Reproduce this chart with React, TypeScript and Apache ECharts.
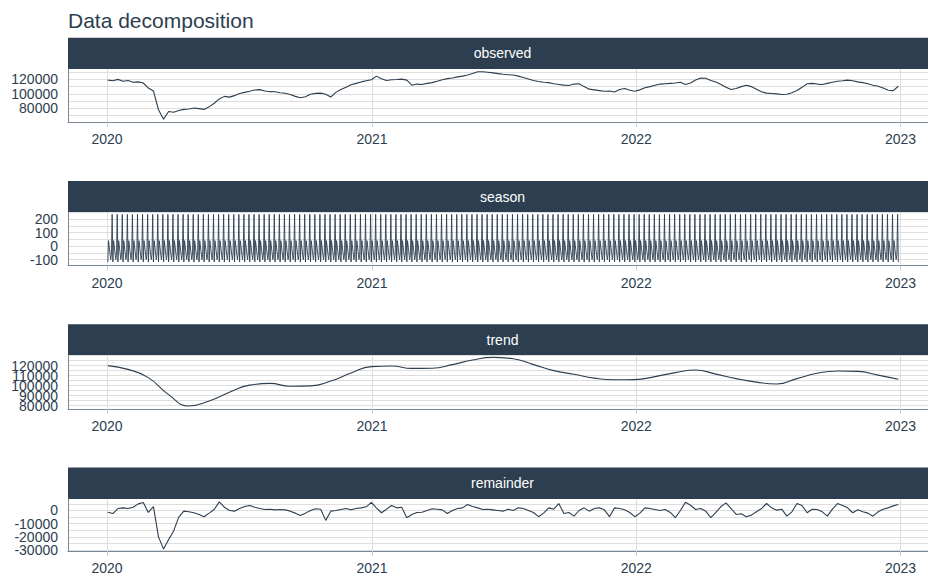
import { useEffect, useRef } from "react";
import * as echarts from "echarts";

// ---- data ---------------------------------------------------------------

const DAY_MS = 86400000;
const ORIGIN = Date.UTC(2020, 0, 1);

const panelNames = ["observed", "season", "trend", "remainder"];
const yearLabels = ["2020", "2021", "2022", "2023"];

// first observation (2020-01-02) as days since 2020-01-01, and weekly step
const firstDay = 1;
const weekStep = 7;

// weekly observed level
const observedWeekly = [
  119000, 118000, 120000, 117500, 118500, 116000, 116500, 115000, 108000, 104000,
  78000, 65000, 75500, 74500, 77000, 78500, 79000, 80500, 79500, 78500,
  82000, 87000, 93000, 96500, 95500, 97500, 100500, 102000, 103500, 105300,
  105800, 104000, 103000, 102800, 101500, 100800, 99000, 96500, 94500, 96000,
  99500, 100700, 101000, 99500, 95500, 102000, 106000, 109000, 112500, 114500,
  116500, 118000, 119500, 124500, 121000, 118500, 119500, 119800, 120300, 119000,
  112000, 113500, 113000, 114500, 115500, 117500, 119500, 121000, 122000, 123500,
  124500, 126000, 128000, 130500, 130500, 129800, 129000, 128000, 127000, 126500,
  126000, 124500, 122500, 120500, 118500, 117000, 116000, 115500, 114000, 113000,
  112000, 111500, 113500, 114000, 110000, 106500, 105500, 104500, 103500, 104000,
  102500, 106000, 107500, 105000, 103500, 105500, 108500, 110000, 112000, 113500,
  114000, 114500, 115000, 116000, 113000, 115000, 119000, 122000, 121500, 118500,
  116500, 113000, 109000, 106000, 107500, 110000, 112000, 110000, 106500, 103000,
  101000, 100500, 100000, 99000, 99500, 101500, 104500, 109000, 114000, 114500,
  113500, 113000, 114500, 116000, 117500, 118000, 119000, 118000, 116500, 115500,
  114000, 112000, 110500, 108000, 105000, 104500, 110500,
];

// seasonal component for one trading week, Monday..Friday
const seasonWeek = [-100, -60, 237, -118, 41];

// trend sampled every four weeks
const trendStep = 28;
const trendValues = [
  120000, 116200, 108000, 91000, 79600, 84600, 93300, 100500, 102200, 99300,
  99700, 104500, 112600, 119000, 119600, 117200, 117400, 121000, 125600, 128200,
  126800, 121000, 115000, 111300, 107500, 105800, 106000, 109000, 113000, 115600,
  111500, 107000, 103500, 101600, 107000, 112400, 114600, 114200, 110500, 106300,
];

// weekly remainder
const remainderWeekly = [
  -1300, -2300, 1500, 2000, 1500, 2500, 5000, 6000, -1500, 3000,
  -20000, -29300, -22000, -15500, -5000, -500, -1000, -1700, -3000, -4700,
  -2000, 750, 6500, 2500, 0, -500, 1500, 3000, 3800, 2500,
  1500, 750, 1000, 500, 750, 500, -500, -2000, -3800, -2000,
  0, 1300, 1000, -7500, -500, 0, 750, 1500, 500, 1500,
  2000, 2800, 6200, 2000, -1700, 1000, 3800, 2000, 2500, -5500,
  -3000, -1500, -1300, 0, 1300, 1000, 500, -2300, 0, 1500,
  2000, 4500, 3000, 2000, 750, 1000, 500, 0, -500, 1000,
  0, 2000, 1500, 0, -1500, -4700, -2000, 2000, 1000, 5300,
  -2300, -1500, -4300, 0, 2000, -500, 1500, 2000, 500, -4700,
  2000, 1500, 500, -1500, -4700, -2000, 2000, 1500, 750, 0,
  750, -1500, -5500, 0, 6200, 4000, 750, 1500, -500, -5500,
  -1500, 3000, 5800, 1500, -3000, -2500, -4700, -3500, -1000, 1500,
  5300, 2000, 250, 1000, -4300, -1000, 5300, 3800, -1700, 1000,
  750, -1000, -4300, 1000, 5300, 3800, 2000, -1700, 500, -1000,
  -2000, -4300, -1000, 1000, 2000, 3500, 4500,
];

// y ranges, grid lines and labelled ticks per panel
const observedRange = [60650, 134350];
const observedGrid = [70000, 80000, 90000, 100000, 110000, 120000, 130000];
const observedTicks = [80000, 100000, 120000];

const seasonRange = [-145, 252.5];
const seasonGrid = [-100, -50, 0, 50, 100, 150, 200, 250];
const seasonTicks = [-100, 0, 100, 200];

const trendRange = [76700, 130000];
const trendGrid = [80000, 85000, 90000, 95000, 100000, 105000, 110000, 115000, 120000, 125000, 130000];
const trendTicks = [80000, 90000, 100000, 110000, 120000];

const remainderRange = [-30750, 8800];
const remainderGrid = [-30000, -25000, -20000, -15000, -10000, -5000, 0, 5000];
const remainderTicks = [-30000, -20000, -10000, 0];

// ---- helpers ------------------------------------------------------------

const dayOfYearStart = (y: number) => (Date.UTC(y, 0, 1) - ORIGIN) / DAY_MS;
const yearDays = yearLabels.map((y) => dayOfYearStart(Number(y)));

const weeklyPoints = (vals: number[]) =>
  vals.map((v, k) => [firstDay + k * weekStep, v]);

const trendPoints = trendValues.map((v, j) => [firstDay + j * trendStep, v]);

// seasonal values on trading days (weekends skipped)
const lastDay = firstDay + (observedWeekly.length - 1) * weekStep;
const seasonPoints: number[][] = [];
for (let d = firstDay; d <= lastDay; d++) {
  const wd = (3 + d) % 7; // 2020-01-01 was a Wednesday; 0 = Sunday
  if (wd === 0 || wd === 6) continue;
  seasonPoints.push([d, seasonWeek[wd - 1]]);
}

// ---- layout / style -----------------------------------------------------

const BLUE = "#2c3e50";
const GRID_LINE = "#dedede";
const BORDER = "#7a8896";
const FONT = "'Liberation Sans', Arial, sans-serif";

const LEFT = 68;
const X_MIN = -54;
const X_MAX = 1134;
const STRIP_TOP = 37.7;
const STRIP_H = 31.3;
const PLOT_H = 53.3;
const PERIOD = 143.3;

function buildOption() {
  const panels = [
    { data: weeklyPoints(observedWeekly), range: observedRange, grid: observedGrid, ticks: observedTicks, smooth: false, width: 1.1 },
    { data: seasonPoints, range: seasonRange, grid: seasonGrid, ticks: seasonTicks, smooth: false, width: 0.9 },
    { data: trendPoints, range: trendRange, grid: trendGrid, ticks: trendTicks, smooth: true, width: 1.1 },
    { data: weeklyPoints(remainderWeekly), range: remainderRange, grid: remainderGrid, ticks: remainderTicks, smooth: false, width: 1.1 },
  ];

  const grids = panels.map((_, i) => ({
    left: LEFT,
    right: 0,
    top: STRIP_TOP + STRIP_H + i * PERIOD,
    height: PLOT_H,
    containLabel: false,
  }));

  const xAxes = panels.map((_, i) => ({
    gridIndex: i,
    type: "value",
    min: X_MIN,
    max: X_MAX,
    axisLine: { show: true, onZero: false, lineStyle: { color: BORDER, width: 1 } },
    axisTick: {
      show: true,
      customValues: yearDays,
      length: 5,
      lineStyle: { color: "#cccccc", width: 1 },
    },
    axisLabel: {
      customValues: yearDays,
      formatter: (v: number) => yearLabels[yearDays.indexOf(v)] ?? "",
      color: BLUE,
      fontSize: 14,
      fontFamily: FONT,
      margin: 10,
      showMinLabel: true,
      showMaxLabel: true,
    },
    splitLine: { show: true, lineStyle: { color: GRID_LINE, width: 1 } },
  }));

  const labelStyle = {
    formatter: (v: number) => String(v),
    color: BLUE,
    fontSize: 14,
    fontFamily: FONT,
    margin: 10,
    showMinLabel: true,
    showMaxLabel: true,
  };

  // Two left axes per panel: the first carries the series, border and grid
  // lines plus every other label; the second carries the remaining labels,
  // so closely spaced labels are all kept.
  const yAxes: any[] = [];
  panels.forEach((p, i) => {
    yAxes.push({
      gridIndex: i,
      type: "value",
      position: "left",
      min: p.range[0],
      max: p.range[1],
      axisLine: { show: true, onZero: false, lineStyle: { color: BORDER, width: 1 } },
      axisTick: { show: false, customValues: p.grid },
      axisLabel: { ...labelStyle, customValues: p.ticks.filter((_, k) => k % 2 === 0) },
      splitLine: { show: true, lineStyle: { color: GRID_LINE, width: 1 } },
    });
    yAxes.push({
      gridIndex: i,
      type: "value",
      position: "left",
      min: p.range[0],
      max: p.range[1],
      axisLine: { show: false },
      axisTick: { show: false },
      axisLabel: { ...labelStyle, customValues: p.ticks.filter((_, k) => k % 2 === 1) },
      splitLine: { show: false },
    });
  });

  const series = panels.map((p, i) => ({
    type: "line",
    xAxisIndex: i,
    yAxisIndex: i * 2,
    data: p.data,
    showSymbol: false,
    smooth: p.smooth,
    lineStyle: { color: BLUE, width: p.width },
    silent: true,
  }));

  const graphics: any[] = [];
  panelNames.forEach((name, i) => {
    const top = STRIP_TOP + i * PERIOD;
    graphics.push({
      type: "rect",
      shape: { x: LEFT, y: top, width: 928 - LEFT, height: STRIP_H },
      style: { fill: BLUE },
      silent: true,
    });
    graphics.push({
      type: "text",
      x: 502.5,
      y: top + STRIP_H / 2,
      style: {
        text: name,
        fill: "#ffffff",
        font: `14px ${FONT}`,
        align: "center",
        verticalAlign: "middle",
      },
      silent: true,
    });
  });

  return {
    animation: false,
    backgroundColor: "#ffffff",
    title: {
      text: "Data decomposition",
      left: LEFT - 5,
      top: 5,
      textStyle: { color: BLUE, fontSize: 21, fontWeight: "normal", fontFamily: FONT },
    },
    grid: grids,
    xAxis: xAxes,
    yAxis: yAxes,
    series,
    graphic: graphics,
  };
}

export default function App() {
  const ref = useRef<HTMLDivElement>(null);
  useEffect(() => {
    if (!ref.current) return;
    const chart = echarts.init(ref.current, null, { renderer: "svg" });
    chart.setOption(buildOption() as any);
    return () => chart.dispose();
  }, []);
  return (
    <div
      ref={ref}
      style={{ position: "absolute", left: 0, top: 0, width: 928, height: 575 }}
    />
  );
}
